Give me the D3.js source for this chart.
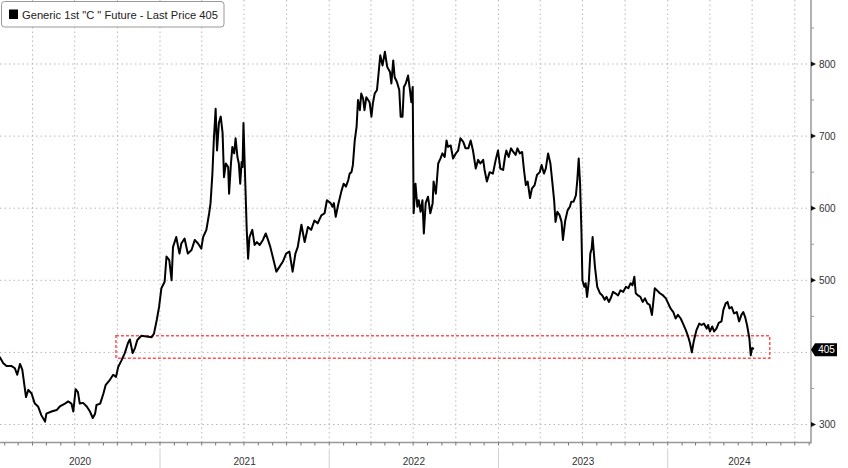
<!DOCTYPE html>
<html>
<head>
<meta charset="utf-8">
<script src="https://cdn.jsdelivr.net/npm/d3@7/dist/d3.min.js"></script>
<style>
html,body{margin:0;padding:0;background:#fff;}
svg{display:block;font-family:"Liberation Sans",Arial,sans-serif;}
</style>
</head>
<body>
<svg id="chart" width="848" height="468"></svg>
<script>
// ---------------- DATA ----------------
const title = 'Generic 1st "C " Future - Last Price 405';
const lastPrice = 405;
const yTicks = [300, 500, 600, 700, 800];
const yMinor = [350, 450, 550, 650, 750, 850];
const gridValues = [300, 400, 500, 600, 700, 800];
const years = [2020, 2021, 2022, 2023, 2024];
const boxRange = {from: "2020-09-28", to: "2024-08-08", low: 392, high: 423};

const dates2020 = ["01-21","01-29","02-05","02-16","02-23","02-28","03-05","03-10","03-18","03-23","03-30","04-06","04-13","04-20","04-28","05-01","05-12","05-23","05-30","06-10","06-17","06-24","06-28","07-03","07-08","07-12","07-19","07-27","08-03","08-09","08-14","08-17","08-25","09-01","09-06","09-15","09-22","09-28","10-03","10-10","10-17","10-24","10-28","11-03","11-08","11-13","11-17","11-22","12-03","12-14","12-19","12-25","12-30"];
const prices2020 = [394,385,381,381,378,369,384,376,338,348,343,329,325,313,304,315,318,320,325,329,332,329,318,349,345,329,330,325,318,309,315,327,329,343,355,362,369,366,380,389,399,413,418,399,406,417,420,423,422,421,426,445,463];

const dates2021 = ["01-04","01-11","01-15","01-21","01-26","01-29","02-05","02-12","02-16","02-23","03-02","03-10","03-17","03-24","03-31","04-04","04-11","04-17","04-20","04-24","04-27","05-01","05-04","05-08","05-12","05-16","05-19","05-23","05-28","05-30","06-03","06-06","06-10","06-13","06-17","06-20","06-23","06-26","06-28","06-30","07-04","07-07","07-10","07-13","07-19","07-24","07-29","08-04","08-11","08-17","08-22","08-27","09-01","09-09","09-16","09-23","09-30","10-07","10-14","10-20","10-25","11-02","11-09","11-16","11-23","11-30","12-07","12-15","12-22","12-27"];
const prices2021 = [489,498,533,528,500,546,560,537,551,558,537,542,556,551,544,560,570,593,607,648,694,738,680,718,727,704,643,662,657,620,662,685,676,697,671,662,634,664,657,718,634,570,530,560,570,549,553,549,556,565,556,546,533,512,519,526,537,540,512,537,546,577,553,574,570,583,579,590,593,611];

const dates2022 = ["01-04","01-08","01-11","01-15","01-20","01-27","02-01","02-06","02-11","02-14","02-18","02-21","02-25","03-01","03-04","03-08","03-11","03-15","03-18","03-22","03-29","04-02","04-05","04-09","04-14","04-18","04-21","04-26","05-01","05-06","05-12","05-15","05-19","05-22","05-27","06-01","06-04","06-08","06-11","06-15","06-20","06-24","06-27","06-30","07-02","07-06","07-10","07-13","07-17","07-21","07-24","07-28","08-02","08-07","08-12","08-14","08-19","08-24","08-29","09-02","09-07","09-11","09-14","09-20","09-25","10-01","10-06","10-11","10-17","10-22","10-28","11-02","11-07","11-13","11-18","11-23","11-29","12-02","12-07","12-13","12-20","12-26","12-31"];
const prices2022 = [607,602,607,588,604,623,634,630,639,648,650,660,694,713,750,736,759,752,736,754,747,727,745,759,764,791,812,798,817,796,789,773,805,782,775,764,727,727,768,773,784,764,747,768,593,634,602,611,595,611,565,607,616,593,607,637,620,662,669,676,671,694,685,687,669,676,680,697,692,683,683,694,680,655,667,662,667,653,637,650,648,667,680];

const dates2023 = ["01-05","01-11","01-15","01-18","01-23","01-28","02-02","02-07","02-11","02-16","02-21","02-25","03-01","03-05","03-10","03-14","03-20","03-25","03-31","04-04","04-09","04-13","04-18","04-23","04-27","05-01","05-04","05-08","05-13","05-17","05-20","05-25","05-30","06-04","06-07","06-12","06-17","06-20","06-23","06-26","06-29","07-01","07-05","07-08","07-11","07-15","07-18","07-21","07-23","07-28","08-02","08-08","08-13","08-18","08-22","08-27","08-31","09-05","09-10","09-16","09-21","09-27","10-03","10-08","10-13","10-17","10-21","10-24","10-29","11-03","11-08","11-13","11-18","11-23","11-28","12-04","12-09","12-15","12-22","12-28"];
const prices2023 = [655,653,671,680,671,683,678,674,683,676,678,653,632,637,614,627,632,646,650,660,648,655,676,662,637,611,581,595,590,581,556,583,597,602,609,609,618,639,669,634,565,500,491,496,477,500,537,544,560,519,491,482,479,473,477,470,475,484,482,479,486,484,491,489,496,493,505,482,479,477,470,475,468,466,452,489,486,482,479,475];

const dates2024 = ["01-02","01-07","01-13","01-18","01-23","01-29","02-03","02-09","02-14","02-18","02-22","02-26","03-03","03-09","03-14","03-19","03-25","03-28","04-01","04-06","04-10","04-15","04-20","04-26","04-30","05-05","05-09","05-13","05-18","05-23","05-29","06-03","06-08","06-12","06-16","06-20","06-25","06-28","07-01","07-05"];
const prices2024 = [468,461,456,447,452,447,440,431,422,413,400,415,431,440,438,440,433,438,429,436,429,433,441,443,459,468,470,461,463,454,456,443,452,456,449,438,420,396,406,405];

// ---------------- BUILD ----------------
const parse = d3.utcParse("%Y-%m-%d");
const series = [];
[[2020,dates2020,prices2020],[2021,dates2021,prices2021],[2022,dates2022,prices2022],[2023,dates2023,prices2023],[2024,dates2024,prices2024]]
  .forEach(([yr, ds, ps]) => ds.forEach((d, i) => series.push({date: parse(yr + "-" + d), value: ps[i]})));

const svg = d3.select("#chart");
const W = 848, H = 468;
const axisX = 811, axisY = 442.5;

const x = d3.scaleUtc()
  .domain([parse("2020-01-01"), parse("2024-11-05")])
  .range([-9.7, axisX]);
const y = d3.scaleLinear().domain([300, 800]).range([424.5, 64]);

// vertical quarterly dotted gridlines
const quarters = d3.utcMonth.every(3).range(parse("2020-01-01"), parse("2024-11-05")).filter(d => x(d) > 0 && x(d) < axisX - 2);
svg.append("g").selectAll("line").data(quarters).join("line")
  .attr("x1", d => x(d)).attr("x2", d => x(d))
  .attr("y1", 0).attr("y2", axisY)
  .attr("stroke", "#b8b8b8").attr("stroke-width", 1)
  .attr("stroke-dasharray", "1.5,3");

// horizontal dotted gridlines
svg.append("g").selectAll("line").data(gridValues).join("line")
  .attr("x1", 0).attr("x2", axisX)
  .attr("y1", d => y(d)).attr("y2", d => y(d))
  .attr("stroke", "#b8b8b8").attr("stroke-width", 1)
  .attr("stroke-dasharray", "1.5,3");

// highlight box
svg.append("rect")
  .attr("x", x(parse(boxRange.from)))
  .attr("y", y(boxRange.high))
  .attr("width", x(parse(boxRange.to)) - x(parse(boxRange.from)))
  .attr("height", y(boxRange.low) - y(boxRange.high))
  .attr("fill", "none")
  .attr("stroke", "#ff5050").attr("stroke-width", 1.5)
  .attr("stroke-dasharray", "3,2");

// price line
const line = d3.line().x(d => x(d.date)).y(d => y(d.value));
svg.append("path").datum(series)
  .attr("d", line)
  .attr("fill", "none").attr("stroke", "#000")
  .attr("stroke-width", 2).attr("stroke-linejoin", "round");

// axes lines
svg.append("line").attr("x1", axisX).attr("x2", axisX).attr("y1", 0).attr("y2", axisY + 1)
  .attr("stroke", "#999").attr("stroke-width", 1.5);
svg.append("line").attr("x1", 0).attr("x2", axisX).attr("y1", axisY).attr("y2", axisY)
  .attr("stroke", "#999").attr("stroke-width", 1.5);

// monthly ticks on bottom axis
const months = d3.utcMonth.range(parse("2020-01-01"), parse("2024-11-05")).filter(d => x(d) > 0 && x(d) < axisX);
svg.append("g").selectAll("line").data(months).join("line")
  .attr("x1", d => x(d)).attr("x2", d => x(d))
  .attr("y1", axisY).attr("y2", axisY + 3)
  .attr("stroke", "#777").attr("stroke-width", 1);

// year separators and labels
const yearStarts = years.slice(1).map(yr => parse(yr + "-01-01"));
svg.append("g").selectAll("line").data(yearStarts).join("line")
  .attr("x1", d => x(d)).attr("x2", d => x(d))
  .attr("y1", axisY + 6).attr("y2", H)
  .attr("stroke", "#d0d0d0").attr("stroke-width", 1);

svg.append("g").selectAll("text").data(years).join("text")
  .attr("x", yr => {
    const a = Math.max(0, x(parse(yr + "-01-01")));
    const b = Math.min(axisX, x(parse((yr + 1) + "-01-01")));
    return (a + b) / 2;
  })
  .attr("y", 465)
  .attr("text-anchor", "middle")
  .attr("font-size", 10).attr("fill", "#333")
  .text(yr => yr);

// right axis minor ticks
svg.append("g").selectAll("line").data(yMinor.filter(v => y(v) > 0)).join("line")
  .attr("x1", axisX).attr("x2", axisX + 3)
  .attr("y1", d => y(d)).attr("y2", d => y(d))
  .attr("stroke", "#999").attr("stroke-width", 1);

// right axis major ticks: small pointers + labels
const tg = svg.append("g");
tg.selectAll("path").data(yTicks).join("path")
  .attr("d", v => `M${axisX},${y(v) - 2.5}L${axisX + 5},${y(v)}L${axisX},${y(v) + 2.5}Z`)
  .attr("fill", "#111");
tg.selectAll("text").data(yTicks).join("text")
  .attr("x", axisX + 8).attr("y", v => y(v) + 3.6)
  .attr("font-size", 10).attr("fill", "#333")
  .text(v => v);

// last price tag
const ty = y(lastPrice) + 1;
svg.append("path")
  .attr("d", `M${axisX},${ty}L${axisX + 4},${ty - 6.5}L${axisX + 26},${ty - 6.5}L${axisX + 26},${ty + 6.5}L${axisX + 4},${ty + 6.5}Z`)
  .attr("fill", "#000");
svg.append("text")
  .attr("x", axisX + 15.5).attr("y", ty + 3.6)
  .attr("text-anchor", "middle")
  .attr("font-size", 10).attr("fill", "#fff")
  .text(lastPrice);

// legend
const lg = svg.append("g");
lg.append("rect").attr("x", 1.5).attr("y", 1.5).attr("width", 222.5).attr("height", 25.5)
  .attr("rx", 3).attr("fill", "#fff").attr("stroke", "#999").attr("stroke-width", 1);
lg.append("rect").attr("x", 9).attr("y", 9.5).attr("width", 9).attr("height", 9.5).attr("fill", "#000");
lg.append("text").attr("x", 22).attr("y", 18.5)
  .attr("font-size", 11).attr("fill", "#222")
  .attr("textLength", 196).attr("lengthAdjust", "spacingAndGlyphs")
  .text(title);
</script>
</body>
</html>
